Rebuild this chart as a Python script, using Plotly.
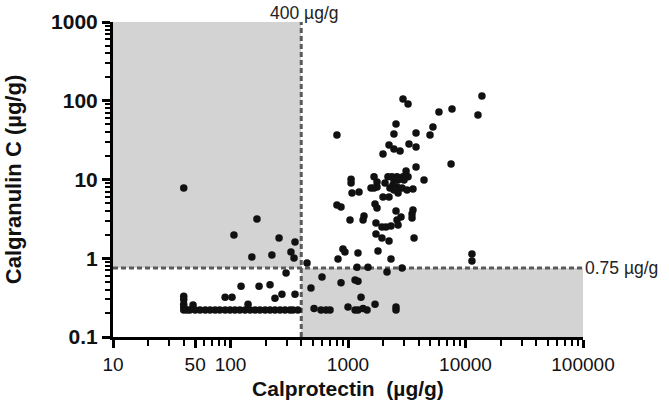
import math
import plotly.graph_objects as go

# Calprotectin (x, ug/g) and Calgranulin C (y, ug/g) values
calprotectin = [
    # upper-left quadrant and near thresholds
    40, 168, 107, 259, 354, 327, 347, 152, 225, 448,
    # lower-left region
    297, 123, 175, 217, 274, 239, 354, 90, 103,
    40, 40, 40, 40, 40, 48, 141,
    42.6, 45, 50, 55, 61, 67, 74, 81, 90, 99, 109, 120, 133, 147, 162, 178,
    197, 217, 239, 264, 291, 321, 340, 375,
    # lower-right region
    484, 601, 872, 1148, 1216, 1291, 1698, 1000, 514, 589, 650, 703, 1148,
    1216, 1343, 1452, 2562, 2562, 2148, 1194, 1479, 2884,
    # upper-right region
    2938, 3243, 13800, 12770, 5943, 7677, 5284, 4989, 7535, 805, 2562, 2460,
    3793, 3304, 3793, 2234, 1985, 2460, 2773, 3793, 3119, 4436, 1062, 1062,
    1082, 1241, 1665, 1766, 1766, 1570, 1665, 2188, 2366, 2612, 2938, 3243,
    2460, 2667, 2065, 2999, 2415, 2612, 2275, 2884, 3177, 3573, 2667, 2460,
    1985, 2234, 805, 872, 1698, 1766, 2562, 3573, 3508, 3508, 2825, 2612,
    1368, 1343, 1040, 1730, 1945, 2104, 2322, 2667, 1730, 1945, 2234, 3648,
    906, 942, 1800, 1216, 822, 2322, 11350, 11350,
]
calgranulin = [
    7.8, 3.15, 1.97, 1.81, 1.61, 1.20, 1.01, 1.04, 1.10, 0.87,
    0.65, 0.44, 0.44, 0.46, 0.35, 0.31, 0.35, 0.32, 0.32,
    0.33, 0.30, 0.26, 0.24, 0.22, 0.255, 0.26,
    0.22, 0.22, 0.22, 0.22, 0.22, 0.22, 0.22, 0.22, 0.22, 0.22, 0.22, 0.22,
    0.22, 0.22, 0.22, 0.22, 0.22, 0.22, 0.22, 0.22, 0.22, 0.22, 0.22, 0.22,
    0.42, 0.58, 0.49, 0.53, 0.51, 0.32, 0.26, 0.24, 0.23, 0.22, 0.22, 0.22,
    0.22, 0.22, 0.23, 0.22, 0.24, 0.22, 0.67, 0.77, 0.77, 0.75,
    105, 91, 115, 66, 72, 78.5, 46.4, 36.7, 15.7, 36.7, 50.7, 37.8,
    38.9, 28.2, 25.9, 27.4, 21.1, 24.4, 23, 14.4, 12.8, 9.86, 10.1, 9.03,
    6.74, 6.94, 10.8, 9.3, 8.03, 7.8, 7.8, 10.8, 10.8, 10.8, 10.8, 10.8,
    9.86, 9.86, 9.03, 9.86, 8.51, 8.03, 7.8, 7.8, 7.36, 7.57, 6.74, 7.36,
    6.0, 6.0, 4.75, 4.48, 4.89, 4.35, 3.98, 4.10, 3.65, 3.24, 3.34, 3.06,
    3.44, 3.06, 3.06, 2.80, 2.49, 2.49, 2.57, 2.64, 2.03, 1.81, 1.66, 1.81,
    1.31, 1.20, 1.24, 1.17, 0.98, 0.98, 1.13, 0.92,
]

cutoff_calprotectin = 400
cutoff_calgranulin = 0.75
x_range = [10, 100000]
y_range = [0.1, 1000]

x_tickvals = [10, 50, 100, 1000, 10000, 100000]
x_ticktext = ["10", "50", "100", "1000", "10000", "100000"]
y_tickvals = [0.1, 1, 10, 100, 1000]
y_ticktext = ["0.1", "1", "10", "100", "1000"]

FONT = "Arial, Liberation Sans, sans-serif"
GRAY = "#d3d3d3"
DASH = "#5a5a5a"

fig = go.Figure()
fig.add_trace(go.Scatter(
    x=calprotectin, y=calgranulin, mode="markers",
    marker=dict(size=7.5, color="#111111"),
    showlegend=False, hoverinfo="x+y",
))

# shaded regions
fig.add_shape(type="rect", xref="x", yref="y",
              x0=x_range[0], x1=cutoff_calprotectin, y0=cutoff_calgranulin, y1=y_range[1],
              fillcolor=GRAY, line_width=0, layer="below")
fig.add_shape(type="rect", xref="x", yref="y",
              x0=cutoff_calprotectin, x1=x_range[1], y0=y_range[0], y1=cutoff_calgranulin,
              fillcolor=GRAY, line_width=0, layer="below")
# dashed cutoff lines
fig.add_shape(type="line", xref="x", yref="y",
              x0=cutoff_calprotectin, x1=cutoff_calprotectin, y0=y_range[0], y1=y_range[1],
              line=dict(color=DASH, width=3, dash="5px,3px"), layer="below")
fig.add_shape(type="line", xref="x", yref="y",
              x0=x_range[0], x1=x_range[1], y0=cutoff_calgranulin, y1=cutoff_calgranulin,
              line=dict(color=DASH, width=3, dash="5px,3px"), layer="below")

fig.add_annotation(text="400 \u00b5g/g", xref="x", yref="paper",
                   x=math.log10(cutoff_calprotectin), y=1, xanchor="center", yanchor="bottom",
                   xshift=3, yshift=-3, showarrow=False,
                   font=dict(family=FONT, size=17.5, color="#222"))
fig.add_annotation(text="0.75 \u00b5g/g", xref="paper", yref="y",
                   x=1, y=math.log10(cutoff_calgranulin), xanchor="left", yanchor="middle",
                   xshift=0, showarrow=False,
                   font=dict(family=FONT, size=17.5, color="#222"))

fig.update_layout(
    width=669, height=407,
    margin=dict(l=113, r=86, t=22, b=70),
    paper_bgcolor="white", plot_bgcolor="white",
    font=dict(family=FONT, color="#111"),
    showlegend=False,
)
fig.update_xaxes(
    type="log", range=[math.log10(x_range[0]), math.log10(x_range[1])],
    tickmode="array", tickvals=x_tickvals, ticktext=x_ticktext,
    ticks="outside", ticklen=8, tickwidth=2.5, tickcolor="black",
    showline=True, linewidth=3, linecolor="black", showgrid=False, zeroline=False,
    tickfont=dict(family=FONT, size=19, color="#111"),
    minor=dict(ticks="outside", ticklen=6, tickwidth=2, tickcolor="black", dtick="D1", showgrid=False),
    title=dict(text="<b>Calprotectin  (\u00b5g/g)</b>", font=dict(family=FONT, size=21, color="#111"), standoff=8),
    automargin=False,
)
fig.update_yaxes(
    type="log", range=[math.log10(y_range[0]), math.log10(y_range[1])],
    tickmode="array", tickvals=y_tickvals, ticktext=[f"<b>{t}</b>" for t in y_ticktext],
    ticks="outside", ticklen=8, tickwidth=2.5, tickcolor="black",
    showline=True, linewidth=3, linecolor="black", showgrid=False, zeroline=False,
    tickfont=dict(family=FONT, size=21, color="#111"),
    minor=dict(ticks="outside", ticklen=5, tickwidth=2, tickcolor="black", dtick="D1", showgrid=False),
    title=dict(text="<b>Calgranulin C (\u00b5g/g)</b>", font=dict(family=FONT, size=22, color="#111"), standoff=24),
    automargin=False,
)

# remove the default page margin so the figure fills the window exactly
fig.write_html("out.html", config={"displayModeBar": False},
               post_script="document.body.style.margin='0';")
